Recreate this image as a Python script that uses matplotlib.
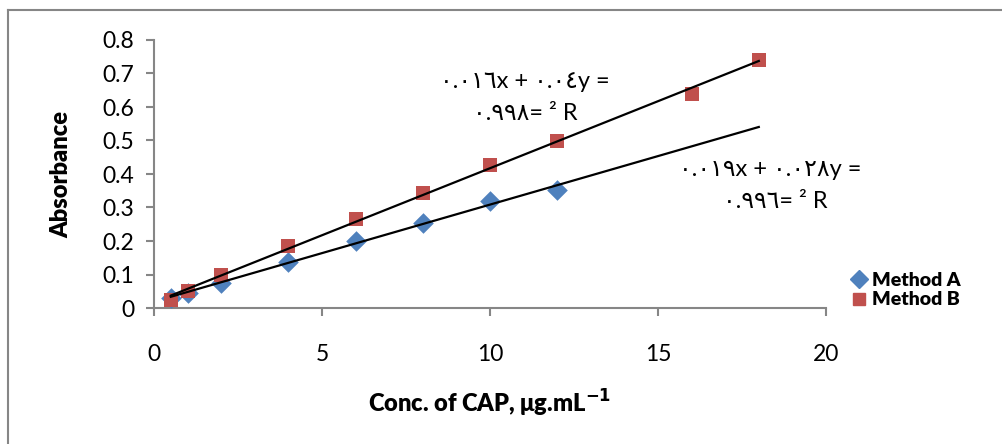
import matplotlib
matplotlib.use("Agg")
import matplotlib.pyplot as plt
import numpy as np
from matplotlib.lines import Line2D

conc_a = [0.5, 1, 2, 4, 6, 8, 10, 12]
abs_a = [0.030, 0.045, 0.075, 0.137, 0.200, 0.253, 0.320, 0.352]
conc_b = [0.5, 1, 2, 4, 6, 8, 10, 12, 16, 18]
abs_b = [0.025, 0.050, 0.098, 0.185, 0.265, 0.343, 0.428, 0.498, 0.640, 0.740]
eq_b = ["٠.٠١٦x + ٠.٠٤y =", "٠.٩٩٨= ² R"]
eq_a = ["٠.٠١٩x + ٠.٠٢٨y =", "٠.٩٩٦= ² R"]
trend_range = [0.5, 18]

blue = "#4F81BD"
red = "#C0504D"
grey = "#868686"
fam = ["Lato", "DejaVu Sans"]

fig = plt.figure(figsize=(10.02, 4.44), dpi=100)
ax = fig.add_axes([154/1002, 1-308/444, (826-154)/1002, (308-40)/444])

ax.scatter(conc_a, abs_a, marker="D", s=110, color=blue, zorder=3, linewidths=0)
ax.scatter(conc_b, abs_b, marker="s", s=90, color=red, zorder=3, linewidths=0)

xs = np.array(trend_range)
for cx, cy in [(conc_a, abs_a), (conc_b, abs_b)]:
    m, c = np.polyfit(cx, cy, 1)
    ax.plot(xs, m*xs + c, color="black", lw=1.6, zorder=4)

ax.set_xlim(0, 20)
ax.set_ylim(0, 0.8)
ax.set_xticks([0, 5, 10, 15, 20])
ax.set_yticks(np.arange(0, 0.81, 0.1))
ax.set_yticklabels(["0", "0.1", "0.2", "0.3", "0.4", "0.5", "0.6", "0.7", "0.8"])
for s in ["top", "right"]:
    ax.spines[s].set_visible(False)
for s in ["left", "bottom"]:
    ax.spines[s].set_color(grey)
    ax.spines[s].set_linewidth(1.5)
ax.tick_params(axis="both", direction="out", length=6, width=1.5, color=grey,
               labelsize=16.5, pad=8)
for lab in ax.get_xticklabels() + ax.get_yticklabels():
    lab.set_family(fam)
ax.tick_params(axis="x", pad=20)

ax.set_ylabel("Absorbance", fontsize=17, fontweight="heavy", family=fam, labelpad=22)
ax.set_xlabel("Conc. of CAP, μg.mL$^{\\mathbf{-1}}$", fontsize=17, fontweight="heavy",
              family=fam, labelpad=16)

for (x, y), t in zip([(525, 82), (525, 113), (770, 170), (775, 201)],
                     eq_b + eq_a):
    ax.text(x/1002, 1-y/444, t, transform=fig.transFigure, ha="center", va="center",
            fontsize=17, family=fam)

handles = [Line2D([], [], marker="D", color=blue, ls="none", markersize=9),
           Line2D([], [], marker="s", color=red, ls="none", markersize=9)]
leg = fig.legend(handles, ["Method A", "Method B"], loc="center left",
                 bbox_to_anchor=(830/1002, 1-290/444), frameon=False,
                 prop={"family": fam, "weight": "heavy", "size": 14},
                 handletextpad=0.05, labelspacing=0.15, handlelength=1.2)

fig.add_artist(Line2D([8/1002, 8/1002], [0, 1-10/444], transform=fig.transFigure,
                      color=grey, lw=1.5))
fig.add_artist(Line2D([8/1002, 1], [1-10/444, 1-10/444], transform=fig.transFigure,
                      color=grey, lw=1.5))

fig.savefig("out.png", dpi=100)
